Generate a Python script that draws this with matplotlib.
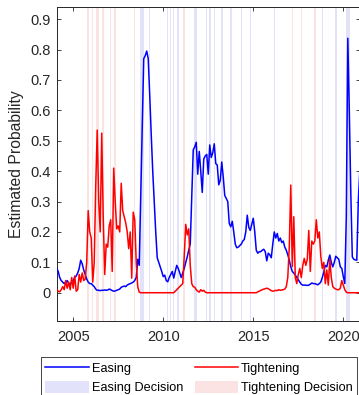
import matplotlib
matplotlib.use("Agg")
import matplotlib.pyplot as plt
from matplotlib.patches import Patch
from matplotlib.lines import Line2D
import numpy as np
import pandas as pd

plt.rcParams['font.family'] = ['Liberation Sans', 'DejaVu Sans']

# monthly estimates, Feb 2004 .. Dec 2020
start_month = '2004-02'

easing = [
    0.08, 0.07, 0.05, 0.04, 0.035, 0.03, 0.035, 0.04, 0.03, 0.028,
    0.035, 0.04, 0.05, 0.055, 0.065, 0.08, 0.107, 0.095, 0.075, 0.06,
    0.045, 0.035, 0.03, 0.03, 0.025, 0.02, 0.012, 0.008, 0.008, 0.007,
    0.008, 0.008, 0.009, 0.008, 0.009, 0.012, 0.01, 0.007, 0.005, 0.006,
    0.008, 0.01, 0.012, 0.018, 0.02, 0.022, 0.02, 0.025, 0.028, 0.03,
    0.032, 0.035, 0.04, 0.05, 0.11, 0.09, 0.32, 0.55, 0.77, 0.78,
    0.795, 0.77, 0.65, 0.52, 0.4, 0.3, 0.2, 0.115, 0.1, 0.085,
    0.07, 0.053, 0.058, 0.04, 0.036, 0.05, 0.06, 0.07, 0.048, 0.07,
    0.09, 0.08, 0.065, 0.05, 0.065, 0.08, 0.1, 0.118, 0.14, 0.16,
    0.31, 0.47, 0.48, 0.495, 0.39, 0.465, 0.4, 0.33, 0.44, 0.45,
    0.455, 0.39, 0.486, 0.445, 0.46, 0.49, 0.425, 0.42, 0.355, 0.37,
    0.43, 0.38, 0.32, 0.31, 0.3, 0.228, 0.217, 0.235, 0.2, 0.16,
    0.148, 0.15, 0.155, 0.16, 0.17, 0.175, 0.2, 0.255, 0.215, 0.205,
    0.225, 0.245, 0.2, 0.14, 0.13, 0.135, 0.135, 0.14, 0.143, 0.135,
    0.105, 0.13, 0.125, 0.115, 0.16, 0.2, 0.18, 0.195, 0.17, 0.18,
    0.165, 0.17, 0.15, 0.14, 0.125, 0.107, 0.085, 0.07, 0.065, 0.058,
    0.05, 0.043, 0.035, 0.028, 0.025, 0.025, 0.025, 0.024, 0.025, 0.028,
    0.032, 0.03, 0.03, 0.028, 0.026, 0.03, 0.035, 0.05, 0.068, 0.09,
    0.085, 0.107, 0.124, 0.1, 0.085, 0.1, 0.12, 0.115, 0.11, 0.085,
    0.08, 0.053, 0.03, 0.25, 0.837, 0.6, 0.33, 0.118, 0.11, 0.108,
    0.107, 0.3, 0.4,
]

tightening = [
    0.01, 0.005, 0.003, 0.01, 0.02, 0.01, 0.04, 0.015, 0.035, 0.01,
    0.05, 0.015, 0.055, 0.005, 0.01, 0.06, 0.035, 0.065, 0.04, 0.045,
    0.1, 0.27, 0.2, 0.18, 0.035, 0.1, 0.35, 0.535, 0.3, 0.2,
    0.525, 0.25, 0.06, 0.16, 0.15, 0.22, 0.24, 0.07, 0.41, 0.3,
    0.21, 0.22, 0.2, 0.36, 0.27, 0.25, 0.23, 0.2, 0.145, 0.2,
    0.048, 0.265, 0.24, 0.1, 0.02, 0.002, 0, 0, 0, 0,
    0, 0, 0, 0, 0, 0, 0, 0, 0, 0,
    0, 0, 0, 0, 0, 0, 0, 0, 0, 0.005,
    0.01, 0.015, 0.02, 0.025, 0.03, 0.12, 0.225, 0.19, 0.21, 0.09,
    0.03, 0.02, 0.018, 0.01, 0.005, 0.002, 0.01, 0.005, 0.008, 0.002,
    0, 0, 0, 0, 0, 0, 0, 0, 0, 0,
    0, 0, 0, 0, 0, 0, 0, 0, 0, 0,
    0, 0, 0, 0, 0, 0, 0, 0, 0, 0,
    0, 0, 0, 0, 0.003, 0.005, 0.008, 0.01, 0.012, 0.013,
    0.015, 0.013, 0.01, 0.007, 0.005, 0.006, 0.008, 0.007, 0.01, 0.008,
    0.009, 0.01, 0.012, 0.02, 0.05, 0.15, 0.354, 0.086, 0.25, 0.05,
    0.03, 0.06, 0.08, 0.05, 0.09, 0.113, 0.09, 0.11, 0.205, 0.07,
    0.17, 0.16, 0.17, 0.24, 0.18, 0.2, 0.12, 0.08, 0.1, 0.03,
    0.075, 0.025, 0.11, 0.05, 0.02, 0.015, 0.012, 0.01, 0.01, 0.015,
    0.04, 0.025, 0.01, 0.002, 0, 0, 0, 0, 0, 0,
    0, 0, 0,
]

easing_decisions = ['2008-10', '2008-11', '2008-12', '2009-04', '2010-04',
                    '2010-06', '2010-08', '2010-11', '2011-10', '2011-11',
                    '2012-06', '2012-08', '2012-11', '2013-04', '2013-10',
                    '2014-05', '2014-11', '2016-03', '2018-11', '2019-08',
                    '2020-03', '2020-04', '2020-05']
tightening_decisions = ['2005-11', '2006-02', '2006-05', '2006-06', '2006-09',
                        '2007-02', '2007-05', '2008-06', '2011-03', '2017-03',
                        '2017-09', '2018-06']


def to_year(d):
    d = pd.to_datetime(d)
    return d.year + (d.month - 1) / 12


months = pd.date_range(start_month, periods=len(easing), freq='MS')
t = np.asarray(to_year(months), dtype=float)

fig = plt.figure(figsize=(3.59, 3.95), dpi=100)
ax = fig.add_axes([56.7 / 359, (395 - 321) / 395, (359.8 - 56.7) / 359, (321 - 7) / 395])

blue_band = '#e2e2fa'
red_band = '#fce3e3'
for d in easing_decisions:
    c = to_year(d)
    ax.axvspan(c - 1 / 24, c + 1 / 24, color=blue_band, lw=0, zorder=0)
for d in tightening_decisions:
    c = to_year(d)
    ax.axvspan(c - 1 / 24, c + 1 / 24, color=red_band, lw=0, zorder=0)

ax.plot(t, easing, color='#0000ff', lw=1.1, zorder=3)
ax.plot(t, tightening, color='#ff0000', lw=1.1, zorder=3)

ax.set_xlim(t[0], t[-1])
ax.set_ylim(-0.093, 0.94)
ax.set_xticks([2005, 2010, 2015, 2020])
ax.set_xticklabels(['2005', '2010', '2015', '2020'])
ax.set_yticks(np.arange(0, 0.95, 0.1))
ax.set_yticklabels(['0'] + ['%.1f' % v for v in np.arange(0.1, 0.95, 0.1)])
ax.set_ylabel('Estimated Probability', fontsize=11.3, color='#262626', labelpad=4.5)

for s in ax.spines.values():
    s.set_color('#262626')
    s.set_linewidth(0.7)
ax.tick_params(direction='in', top=True, right=True, length=2.8, width=0.6,
               labelsize=10.5, colors='#262626')
ax.tick_params(axis='y', pad=4.5)
ax.tick_params(axis='x', pad=6.5)

handles = [Line2D([], [], color='#0000ff', lw=1.1),
           Patch(facecolor=blue_band, edgecolor='none'),
           Line2D([], [], color='#ff0000', lw=1.1),
           Patch(facecolor=red_band, edgecolor='none')]
labels = ['Easing', 'Easing Decision', 'Tightening', 'Tightening Decision']
leg = fig.legend(handles, labels, ncol=2, loc='upper left',
                 bbox_to_anchor=(41 / 359, 1 - 357 / 395),
                 fontsize=9.2, frameon=True, fancybox=False, framealpha=1,
                 edgecolor='#262626', handlelength=3.37, handleheight=1.1,
                 handletextpad=0.24, columnspacing=0.94, labelspacing=0.45,
                 borderpad=0.35, borderaxespad=0)
leg.get_frame().set_linewidth(0.6)

fig.savefig('out.png', dpi=100)
